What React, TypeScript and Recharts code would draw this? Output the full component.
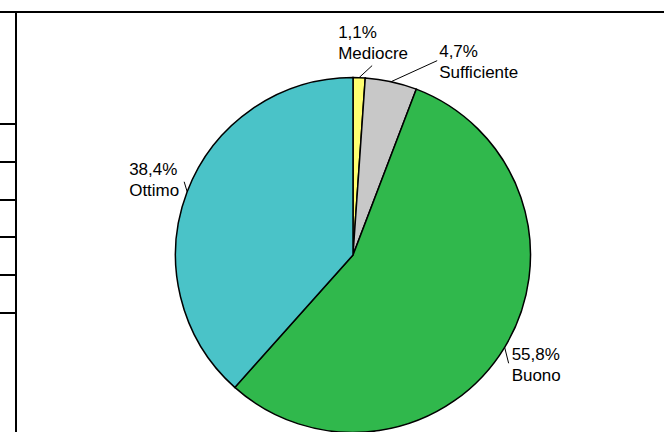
import { PieChart, Pie, Cell } from 'recharts';

const names = ['Mediocre', 'Sufficiente', 'Buono', 'Ottimo'];
const values = [1.1, 4.7, 55.8, 38.4];
const labels = ['1,1%', '4,7%', '55,8%', '38,4%'];
const COLORS = ['#FFFF70', '#C8C8C8', '#30B84C', '#4AC3C8'];

const data = names.map((name, i) => ({ name, value: values[i], pct: labels[i] }));

// leader line end (lx, ly) and text start (tx, ty = first baseline), relative to the slice edge
const LABEL_POS: Record<string, { lx: number; ly: number; tx: number; ty: number }> = {
  Mediocre: { lx: 13, ly: -12, tx: -21, ty: -40 },
  Sufficiente: { lx: 46, ly: -21, tx: 48, ty: -25 },
  Buono: { lx: 4, ly: 16, tx: 7, ty: 13 },
  Ottimo: { lx: -3, ly: -10, tx: -58, ty: -17 },
};

const RADIAN = Math.PI / 180;

const renderLabel = (props: any) => {
  const { cx, cy, midAngle, outerRadius, name, payload } = props;
  const ex = cx + outerRadius * Math.cos(-midAngle * RADIAN);
  const ey = cy + outerRadius * Math.sin(-midAngle * RADIAN);
  const p = LABEL_POS[name];
  const tx = ex + p.tx;
  const ty = ey + p.ty;
  return (
    <g>
      <line x1={ex} y1={ey} x2={ex + p.lx} y2={ey + p.ly} stroke="#000" strokeWidth={1} />
      <text x={tx} y={ty} fill="#000" fontSize={17} fontFamily="'Liberation Sans', Arial, sans-serif" textAnchor="start">
        <tspan x={tx} y={ty}>{payload.pct}</tspan>
        <tspan x={tx} y={ty + 21}>{name}</tspan>
      </text>
    </g>
  );
};

const ticks = [124, 162, 200, 237, 275, 313];

const App = () => {
  return (
    <div style={{ position: 'absolute', left: 0, top: 0, width: 664, height: 432, background: '#fff', overflow: 'hidden' }}>
      <div style={{ position: 'absolute', left: 0, top: 11, width: 664, height: 2, background: '#000' }} />
      <div style={{ position: 'absolute', left: 15, top: 11, width: 2, height: 421, background: '#000' }} />
      {ticks.map((y) => (
        <div key={y} style={{ position: 'absolute', left: 0, top: y - 1, width: 16, height: 2, background: '#000' }} />
      ))}
      <div style={{ position: 'absolute', left: 0, top: 0 }}>
        <PieChart width={664} height={432} margin={{ top: 0, right: 0, bottom: 0, left: 0 }}>
          <Pie
            data={data}
            dataKey="value"
            cx={353}
            cy={255}
            outerRadius={177.5}
            startAngle={90}
            endAngle={-270}
            stroke="#000"
            strokeWidth={1.5}
            label={renderLabel}
            labelLine={false}
            isAnimationActive={false}
          >
            {data.map((_, index) => (
              <Cell key={`cell-${index}`} fill={COLORS[index % COLORS.length]} />
            ))}
          </Pie>
        </PieChart>
      </div>
    </div>
  );
};

export default App;
